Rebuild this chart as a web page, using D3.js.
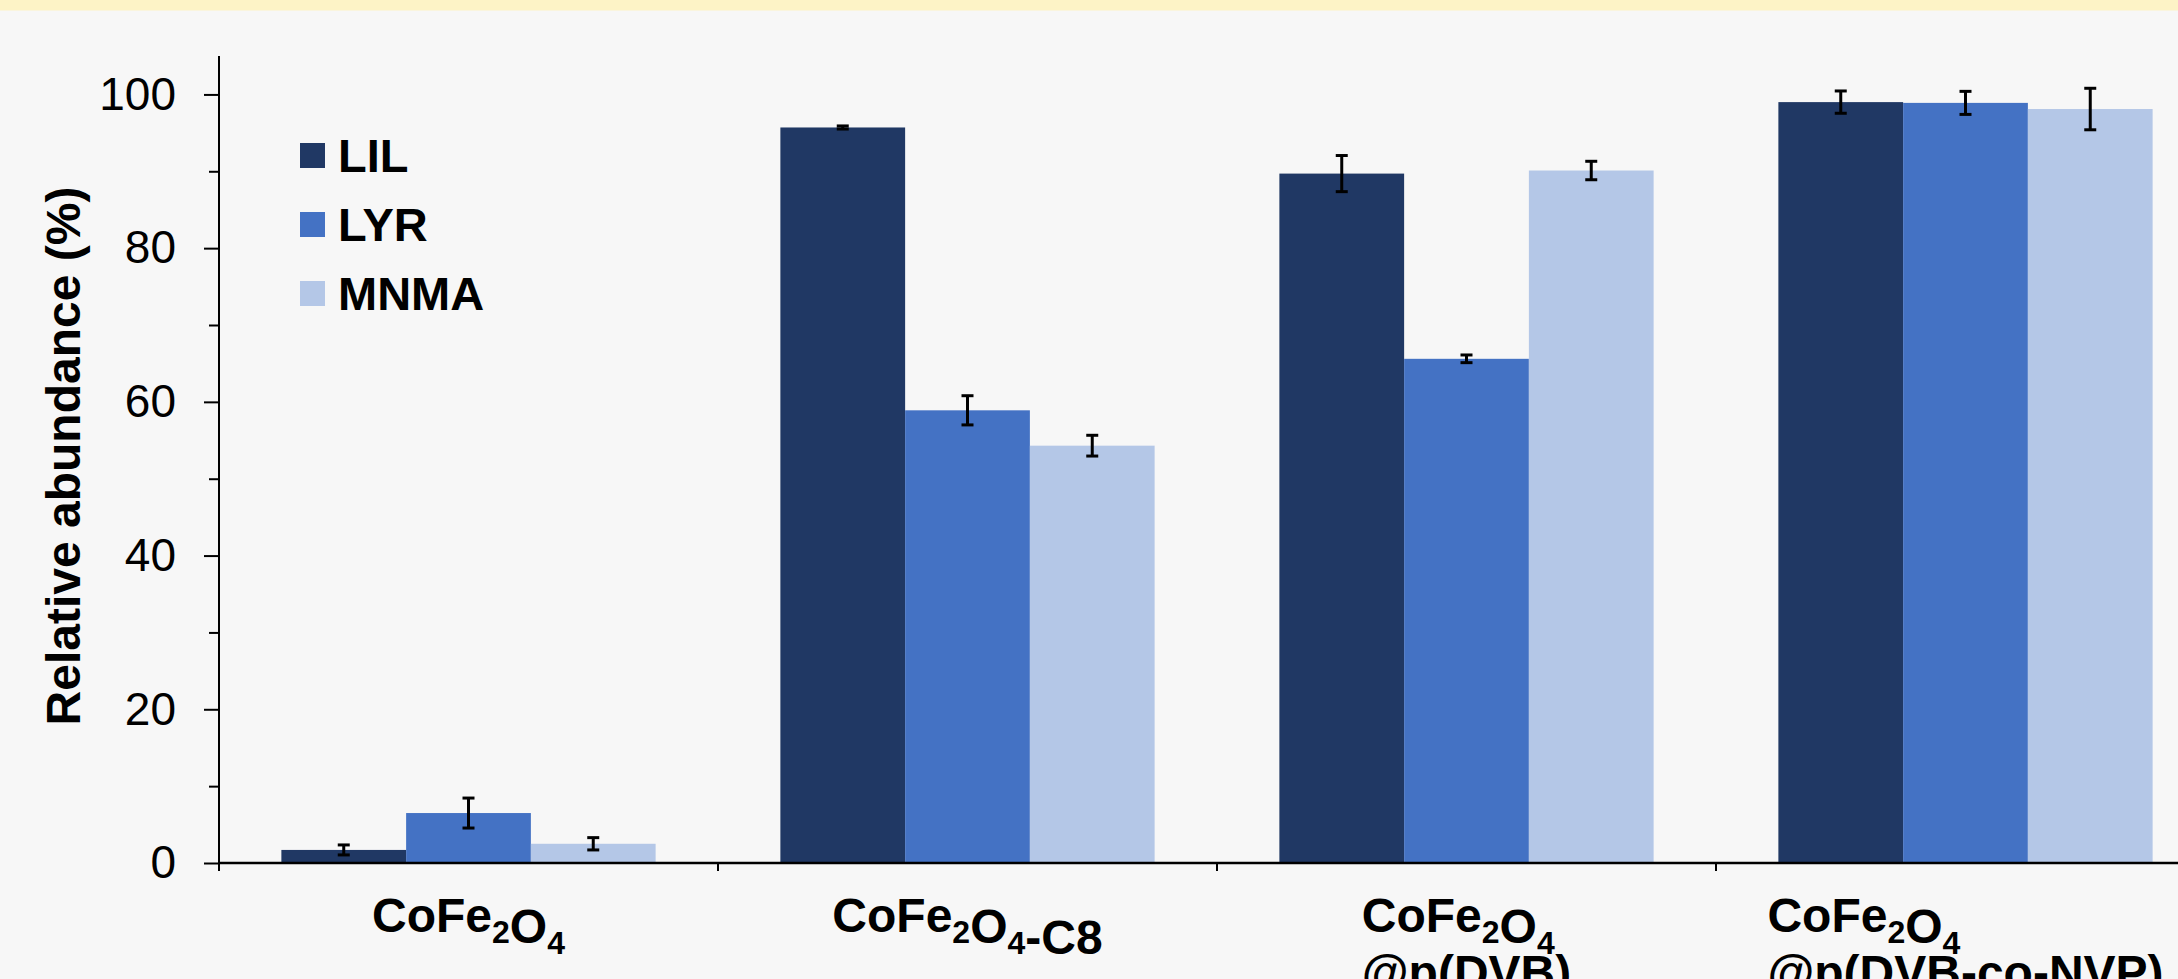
<!DOCTYPE html>
<html>
<head>
<meta charset="utf-8">
<script src="https://cdn.jsdelivr.net/npm/d3@7"></script>
<style>
    body { margin: 0; background: #f7f7f7; overflow: hidden; }
    svg { display: block; }
    text { font-family: "Liberation Sans", Arial, sans-serif; }
</style>
</head>
<body>
<div id="wrapper"></div>
<script>
// categories: "_x" marks a subscript, "\n" a line break
const categories = ["CoFe_2O_4", "CoFe_2O_4-C8", "CoFe_2O_4\n@p(DVB)", "CoFe_2O_4\n@p(DVB-co-NVP)"];
const seriesNames = ["LIL", "LYR", "MNMA"];

const lilValues = [1.7, 95.7, 89.7, 99.0];
const lilErrors = [0.65, 0.2, 2.35, 1.45];
const lyrValues = [6.5, 58.9, 65.6, 98.9];
const lyrErrors = [1.95, 1.9, 0.5, 1.5];
const mnmaValues = [2.5, 54.3, 90.1, 98.1];
const mnmaErrors = [0.8, 1.35, 1.2, 2.7];

const yTicks = [0, 20, 40, 60, 80, 100];
const yMinorTicks = [10, 30, 50, 70, 90];
const yMax = 105;
const colors = ["#203864", "#4472c4", "#b4c7e7"];

function buildPlot() {
    const dimension = {
        width: 2178,
        height: 979,
        margin: { top: 56, left: 219, bottom: 116, right: -37 }
    };
    dimension.boundedWidth = dimension.width - dimension.margin.left - dimension.margin.right;
    dimension.boundedHeight = dimension.height - dimension.margin.top - dimension.margin.bottom;

    const values = [lilValues, lyrValues, mnmaValues];
    const errors = [lilErrors, lyrErrors, mnmaErrors];
    const data = categories.map((c, i) => ({
        category: c,
        bars: seriesNames.map((s, j) => ({ series: s, value: values[j][i], error: errors[j][i], color: colors[j] }))
    }));

    const svg = d3.select("#wrapper").append("svg")
        .attr("width", dimension.width)
        .attr("height", dimension.height);

    svg.append("rect").attr("width", dimension.width).attr("height", dimension.height).attr("fill", "#f7f7f7");
    svg.append("rect").attr("width", dimension.width).attr("height", 10.5).attr("fill", "#fdf3c6");

    const bounds = svg.append("g")
        .attr("transform", `translate(${dimension.margin.left},${dimension.margin.top})`);

    const x0 = d3.scaleBand()
        .domain(categories)
        .range([0, dimension.boundedWidth])
        .paddingInner(0.25)
        .paddingOuter(0.125);

    const x1 = d3.scaleBand()
        .domain(seriesNames)
        .range([0, x0.bandwidth()]);

    const y = d3.scaleLinear()
        .domain([0, yMax])
        .range([dimension.boundedHeight, 0]);

    // bars
    const groups = bounds.selectAll("g.group")
        .data(data)
        .enter()
        .append("g")
        .attr("class", "group")
        .attr("transform", d => `translate(${x0(d.category)},0)`);

    groups.selectAll("rect")
        .data(d => d.bars)
        .enter()
        .append("rect")
        .attr("x", d => x1(d.series))
        .attr("y", d => y(d.value))
        .attr("width", x1.bandwidth())
        .attr("height", d => y(0) - y(d.value))
        .attr("fill", d => d.color);

    // error bars
    const err = groups.selectAll("g.err")
        .data(d => d.bars)
        .enter()
        .append("g")
        .attr("class", "err")
        .attr("stroke", "#000")
        .attr("stroke-width", 3);
    const cx = d => x1(d.series) + x1.bandwidth() / 2;
    err.append("line")
        .attr("x1", cx).attr("x2", cx)
        .attr("y1", d => y(d.value + d.error)).attr("y2", d => y(d.value - d.error));
    err.append("line")
        .attr("x1", d => cx(d) - 6).attr("x2", d => cx(d) + 6)
        .attr("y1", d => y(d.value + d.error)).attr("y2", d => y(d.value + d.error));
    err.append("line")
        .attr("x1", d => cx(d) - 6).attr("x2", d => cx(d) + 6)
        .attr("y1", d => y(d.value - d.error)).attr("y2", d => y(d.value - d.error));

    // y axis
    const yAxis = bounds.append("g")
        .call(d3.axisLeft(y).tickValues(yTicks).tickSize(15).tickPadding(28));
    yAxis.select(".domain").remove();
    yAxis.selectAll("line").attr("stroke", "#000").attr("stroke-width", 2);
    yAxis.selectAll("text")
        .attr("font-family", "'Liberation Sans', Arial, sans-serif")
        .attr("font-size", 46)
        .attr("fill", "#000");

    const yMinor = bounds.append("g")
        .call(d3.axisLeft(y).tickValues(yMinorTicks).tickSize(10).tickFormat(""));
    yMinor.select(".domain").remove();
    yMinor.selectAll("line").attr("stroke", "#000").attr("stroke-width", 2);

    bounds.append("line")
        .attr("x1", 0).attr("x2", 0)
        .attr("y1", y(yMax)).attr("y2", y(0))
        .attr("stroke", "#000").attr("stroke-width", 2);

    // x axis with ticks between categories
    bounds.append("line")
        .attr("x1", 0).attr("x2", dimension.boundedWidth)
        .attr("y1", y(0)).attr("y2", y(0))
        .attr("stroke", "#000").attr("stroke-width", 2.5);

    bounds.selectAll("line.xtick")
        .data(d3.range(categories.length + 1))
        .enter()
        .append("line")
        .attr("class", "xtick")
        .attr("x1", i => i * x0.step()).attr("x2", i => i * x0.step())
        .attr("y1", y(0)).attr("y2", y(0) + 8)
        .attr("stroke", "#000").attr("stroke-width", 2);

    // category labels
    const labels = bounds.selectAll("g.xlabel")
        .data(categories)
        .enter()
        .append("g")
        .attr("class", "xlabel");

    labels.each(function (c) {
        const g = d3.select(this);
        const lines = c.split("\n");
        const texts = lines.map((line, li) => {
            const t = g.append("text")
                .attr("y", y(0) + 69 + li * 57)
                .attr("font-size", 48)
                .attr("font-weight", "bold")
                .attr("fill", "#000");
            line.split(/(_\d)/).filter(s => s.length).forEach(s => {
                if (s[0] === "_") {
                    t.append("tspan").attr("font-size", 32).attr("dy", 11).text(s.slice(1));
                    t.append("tspan").attr("dy", -11).text("");
                } else {
                    t.append("tspan").text(s);
                }
            });
            return t;
        });
        const maxW = d3.max(texts, t => t.node().getComputedTextLength());
        const left = x0(c) + x0.bandwidth() / 2 - maxW / 2;
        texts.forEach(t => t.attr("x", left));
    });

    // y axis title
    svg.append("text")
        .attr("transform", "translate(80,456) rotate(-90)")
        .attr("text-anchor", "middle")
        .attr("font-size", 48)
        .attr("font-weight", "bold")
        .attr("fill", "#000")
        .text("Relative abundance (%)");

    // legend
    const legend = bounds.append("g")
        .attr("transform", `translate(${300 - dimension.margin.left},${143 - dimension.margin.top})`);
    const item = legend.selectAll("g")
        .data(seriesNames)
        .enter()
        .append("g")
        .attr("transform", (d, i) => `translate(0,${i * 69})`);
    item.append("rect")
        .attr("width", 25).attr("height", 25)
        .attr("fill", (d, i) => colors[i]);
    item.append("text")
        .attr("x", 38).attr("y", 29)
        .attr("font-size", 47)
        .attr("font-weight", "bold")
        .attr("fill", "#000")
        .text(d => d);
}

buildPlot();
</script>
</body>
</html>
